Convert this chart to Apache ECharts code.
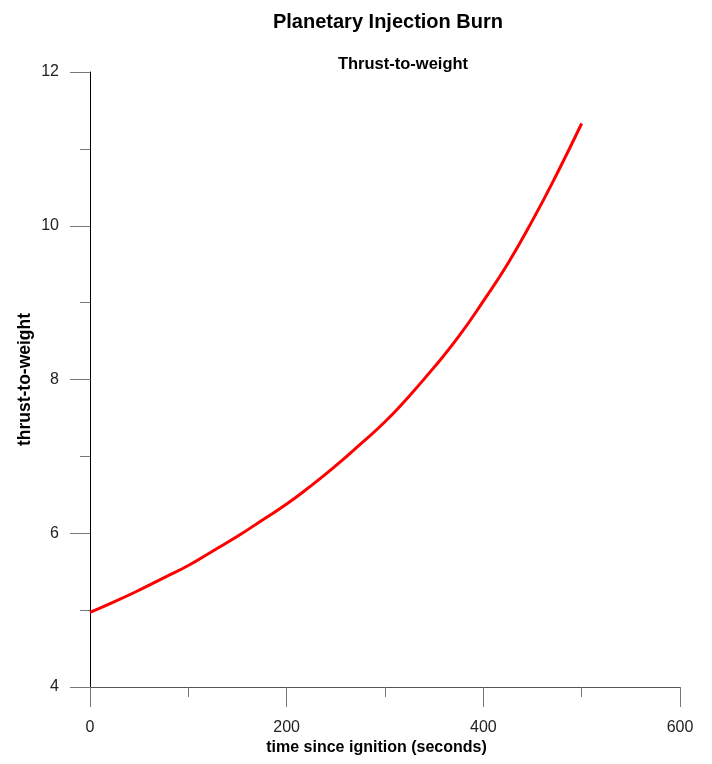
<!DOCTYPE html>
<html>
<head>
<meta charset="utf-8">
<script src="https://cdn.jsdelivr.net/npm/echarts@6/dist/echarts.min.js"></script>
<style>
html,body{margin:0;padding:0;background:#fff;}
#chart{width:712px;height:764px;}
</style>
</head>
<body>
<div id="chart"></div>
<script>
const timeSeconds = [0,25,50,75,100,125,150,175,200,225,250,275,300,325,350,375,400,425,450,475,500];
const thrustToWeight = [4.97,5.11,5.26,5.42,5.58,5.77,5.96,6.17,6.38,6.62,6.88,7.16,7.45,7.79,8.16,8.56,9.02,9.51,10.07,10.68,11.33];
const xTickLabels = [0,200,400,600];
const yTickLabels = [4,6,8,10,12];

const font = "'Liberation Sans', Arial, sans-serif";
const chart = echarts.init(document.getElementById('chart'), null, {renderer:'canvas'});
chart.setOption({
  animation:false,
  backgroundColor:'#fff',
  title:[
    {text:'Planetary Injection Burn', left:383, top:7, textAlign:'center',
     textStyle:{fontFamily:font, fontWeight:'bold', fontSize:20, color:'#000'}},
    {text:'Thrust-to-weight', left:398, top:51, textAlign:'center',
     textStyle:{fontFamily:font, fontWeight:'bold', fontSize:16.5, color:'#000'}}
  ],
  grid:{left:90, right:32, top:72, bottom:77, containLabel:false},
  xAxis:{
    type:'value', min:0, max:600, interval:200,
    name:'time since ignition (seconds)', nameLocation:'middle', nameGap:53,
    nameMoveOverlap:false,
    nameTextStyle:{fontFamily:font, fontWeight:'bold', fontSize:16, color:'#000', padding:[0,17,0,0]},
    axisLine:{show:true, onZero:false, lineStyle:{color:'#555', width:1}},
    axisTick:{show:true, length:20, lineStyle:{color:'#777', width:1}},
    minorTick:{show:true, splitNumber:2, length:10, lineStyle:{color:'#777', width:1}},
    splitLine:{show:false},
    axisLabel:{fontFamily:font, fontSize:16, color:'#222', margin:33,
      formatter:v => xTickLabels.includes(v) ? String(v) : ''}
  },
  yAxis:{
    type:'value', min:4, max:12, interval:2,
    name:'thrust-to-weight', nameLocation:'middle', nameGap:56, nameRotate:90,
    nameMoveOverlap:false,
    nameTextStyle:{fontFamily:font, fontWeight:'bold', fontSize:17.5, color:'#000'},
    axisLine:{show:true, onZero:false, lineStyle:{color:'#000', width:1}},
    axisTick:{show:true, length:20, lineStyle:{color:'#777', width:1}},
    minorTick:{show:true, splitNumber:2, length:10, lineStyle:{color:'#777', width:1}},
    splitLine:{show:false},
    axisLabel:{fontFamily:font, fontSize:16, color:'#222', margin:31,
      formatter:v => yTickLabels.includes(v) ? String(v) : ''}
  },
  series:[{
    type:'line',
    data:timeSeconds.map((t,i)=>[t, thrustToWeight[i]]),
    smooth:true,
    showSymbol:false,
    lineStyle:{color:'#ff0000', width:3},
    itemStyle:{color:'#ff0000'}
  }]
});
</script>
</body>
</html>
